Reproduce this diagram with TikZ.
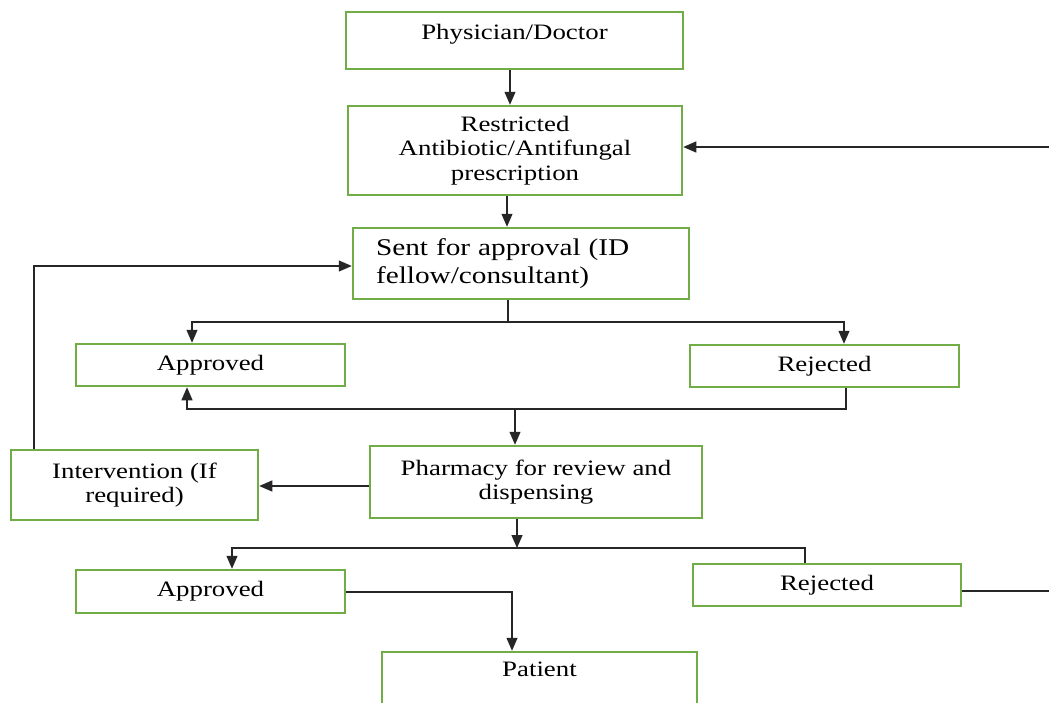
\documentclass[tikz,border=0pt]{standalone}
\usepackage{fontspec}
\setmainfont{Liberation Serif}[FakeStretch=1.22]
\usetikzlibrary{arrows.meta,calc}
\definecolor{boxgreen}{RGB}{112,173,71}
\begin{document}
\begin{tikzpicture}[x=1pt,y=-1pt,
  box/.style={draw=boxgreen,line width=2.5pt,fill=white,align=center,inner sep=0pt,
    font=\fontsize{22}{24.5}\selectfont},
  conn/.style={line width=1.3pt,draw=black!85},
  arr/.style={conn,-{Triangle[length=13pt,width=11pt]}}]
\useasboundingbox (0,0) rectangle (1049,702);
\fill[white] (0,0) rectangle (1049,702);
% boxes
\node[box,minimum width=337,minimum height=57] (phys) at (514.5,40.5) {Physician/Doctor\\[-14pt] \strut};
\node[box,minimum width=334,minimum height=89] (restr) at (515,150.5) {Restricted\\Antibiotic/Antifungal\\prescription};
\node[box,text width=290,inner xsep=23,minimum height=71,align=left,font=\fontsize{24}{28}\selectfont] (sent) at (521,263.5) {Sent for approval (ID\\fellow/consultant)};
\node[box,minimum width=269,minimum height=42] (app1) at (210.5,365) {Approved};
\node[box,minimum width=269,minimum height=42] (rej1) at (824.5,366) {Rejected};
\node[box,minimum width=247,minimum height=70] (interv) at (134.5,485) {Intervention (If\\required)};
\node[box,minimum width=332,minimum height=72] (pharm) at (536,482) {Pharmacy for review and\\dispensing};
\node[box,minimum width=269,minimum height=43] (app2) at (210.5,591.5) {Approved};
\node[box,minimum width=268,minimum height=42] (rej2) at (827,585) {Rejected};
\node[box,minimum width=315,minimum height=66] (pat) at (539.5,685) {Patient\\ \strut};
% helper coordinates
\coordinate (x510) at (510,0);
\coordinate (x507) at (507,0);
\coordinate (rin) at (1049,147);
\coordinate (j1) at (508,322);
\coordinate (a1) at (192,322);
\coordinate (r1) at (844,322);
\coordinate (r1b) at (846,409);
\coordinate (a1b) at (187,409);
\coordinate (j2) at (515,409);
\coordinate (pi) at (0,486);
\coordinate (iv) at (34,266);
\coordinate (j3) at (517,548);
\coordinate (a2) at (232,548);
\coordinate (r2) at (805,548);
\coordinate (p2) at (512,592);
\coordinate (rout) at (1049,591);
% connectors
\draw[arr] (phys.south -| x510) -- (restr.north -| x510);
\draw[arr] (rin) -- (rin -| restr.east);
\draw[arr] (restr.south -| x507) -- (sent.north -| x507);
\draw[conn] (sent.south -| j1) -- (j1);
\draw[arr] (j1) -- (a1) -- (a1 |- app1.north);
\draw[arr] (j1) -- (r1) -- (r1 |- rej1.north);
\draw[arr] (r1b |- rej1.south) -- (r1b) -- (a1b) -- (a1b |- app1.south);
\draw[arr] (j2) -- (j2 |- pharm.north);
\draw[arr] (pi -| pharm.west) -- (pi -| interv.east);
\draw[arr] (iv |- interv.north) -- (iv) -- (iv -| sent.west);
\draw[arr] (j3 |- pharm.south) -- (j3);
\draw[arr] (r2 |- rej2.north) -- (r2) -- (a2) -- (a2 |- app2.north);
\draw[arr] (p2 -| app2.east) -- (p2) -- (p2 |- pat.north);
\draw[conn] (rout -| rej2.east) -- (rout);
\end{tikzpicture}
\end{document}
